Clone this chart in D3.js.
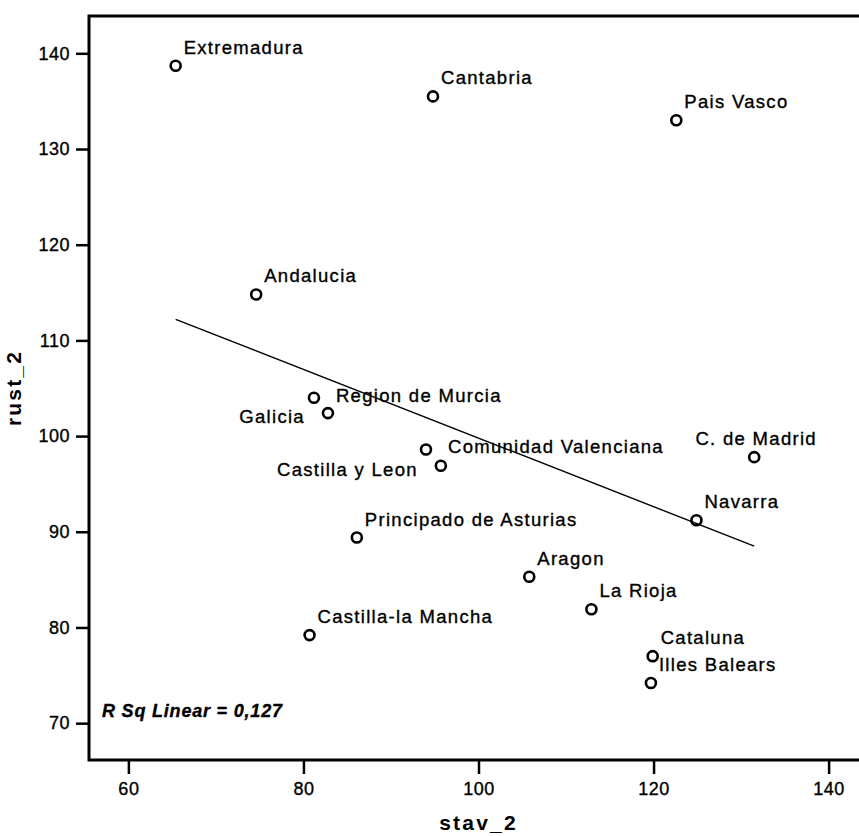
<!DOCTYPE html>
<html>
<head>
<meta charset="utf-8">
<script src="https://cdn.jsdelivr.net/npm/d3@7"></script>
<style>
  html, body { margin: 0; padding: 0; background: #fff; }
  svg { display: block; }
  text { font-family: "Liberation Sans", Arial, Helvetica, sans-serif; fill: #000; }
  .heavy { stroke: #000; stroke-width: 0.35px; }
</style>
</head>
<body>
<script>
// ---- data ----
const regions = ["Extremadura", "Cantabria", "Pais Vasco", "Andalucia", "Region de Murcia",
  "Galicia", "Comunidad Valenciana", "Castilla y Leon", "C. de Madrid", "Navarra",
  "Principado de Asturias", "Aragon", "La Rioja", "Castilla-la Mancha", "Cataluna", "Illes Balears"];
const stav2 = [65.4, 94.8, 122.6, 74.6, 81.2, 82.8, 94.0, 95.7, 131.5, 124.9, 86.1, 105.8, 112.9, 80.7, 119.9, 119.7];
const rust2 = [138.7, 135.5, 133.0, 114.8, 104.0, 102.4, 98.6, 96.9, 97.8, 91.2, 89.4, 85.3, 81.9, 79.2, 77.0, 74.2];
const fitX = [65.4, 131.5];
const fitY = [112.2, 88.5];
const xTicks = [60, 80, 100, 120, 140];
const yTicks = [70, 80, 90, 100, 110, 120, 130, 140];
const rSqText = "R Sq Linear = 0,127";
const xTitle = "stav_2";
const yTitle = "rust_2";

// ---- label placement (style) ----
const placement = {
  "Region de Murcia": "right",
  "Comunidad Valenciana": "right",
  "Galicia": "left",
  "Castilla y Leon": "left",
  "C. de Madrid": "top"
};

const W = 859, H = 836;
const svg = d3.select("body").append("svg").attr("width", W).attr("height", H);

const x = d3.scaleLinear().domain([55.5, 144.5]).range([89, 868]);
const y = d3.scaleLinear().domain([66.15, 143.9]).range([760, 16]);

// frame
svg.append("rect")
  .attr("x", x.range()[0]).attr("y", y.range()[1])
  .attr("width", x.range()[1] - x.range()[0])
  .attr("height", y.range()[0] - y.range()[1])
  .attr("fill", "none").attr("stroke", "#000").attr("stroke-width", 3);

// axes
const gx = svg.append("g").attr("transform", `translate(0,${y.range()[0]})`)
  .call(d3.axisBottom(x).tickValues(xTicks).tickSize(14).tickPadding(8).tickFormat(d3.format("d")));
const gy = svg.append("g").attr("transform", `translate(${x.range()[0]},0)`)
  .call(d3.axisLeft(y).tickValues(yTicks).tickSize(13).tickPadding(6).tickFormat(d3.format("d")));
[gx, gy].forEach(g => {
  g.select(".domain").remove();
  g.selectAll(".tick line").attr("stroke", "#000").attr("stroke-width", 2.5);
  g.selectAll(".tick text").attr("font-size", 18).attr("letter-spacing", 0.5)
    .attr("class", "heavy")
    .attr("font-family", '"Liberation Sans", Arial, sans-serif').attr("fill", "#000");
});

// regression line
svg.append("line")
  .attr("x1", x(fitX[0])).attr("y1", y(fitY[0]))
  .attr("x2", x(fitX[1])).attr("y2", y(fitY[1]))
  .attr("stroke", "#000").attr("stroke-width", 1.4);

// points
const data = regions.map((n, i) => ({ name: n, sx: stav2[i], ry: rust2[i] }));
svg.append("g").selectAll("circle").data(data).join("circle")
  .attr("cx", d => x(d.sx)).attr("cy", d => y(d.ry)).attr("r", 5)
  .attr("fill", "none").attr("stroke", "#000").attr("stroke-width", 2.6);

// labels
svg.append("g").selectAll("text").data(data).join("text")
  .attr("class", "heavy")
  .attr("font-size", 18.5).attr("letter-spacing", 1.3)
  .attr("x", d => {
    const p = placement[d.name], cx = x(d.sx);
    if (p === "right") return cx + 22;
    if (p === "left") return cx - 23;
    if (p === "top") return cx + 2;
    return cx + 8;
  })
  .attr("y", d => {
    const p = placement[d.name], cy = y(d.ry);
    if (p === "right") return cy + 4;
    if (p === "left") return cy + 10;
    return cy - 12;
  })
  .attr("text-anchor", d => {
    const p = placement[d.name];
    return p === "left" ? "end" : p === "top" ? "middle" : "start";
  })
  .text(d => d.name);

// R square note
svg.append("text").attr("x", 102).attr("y", 717)
  .attr("font-size", 18).attr("font-weight", "bold").attr("font-style", "italic")
  .attr("class", "heavy")
  .attr("letter-spacing", 0.8).text(rSqText);

// axis titles
svg.append("text").attr("x", (x.range()[0] + x.range()[1]) / 2).attr("y", 830)
  .attr("text-anchor", "middle").attr("font-size", 21).attr("font-weight", "bold")
  .attr("letter-spacing", 2.2).text(xTitle);
svg.append("text")
  .attr("transform", `translate(21,${(y.range()[0] + y.range()[1]) / 2}) rotate(-90)`)
  .attr("text-anchor", "middle").attr("font-size", 21).attr("font-weight", "bold")
  .attr("letter-spacing", 2.2).text(yTitle);
</script>
</body>
</html>
